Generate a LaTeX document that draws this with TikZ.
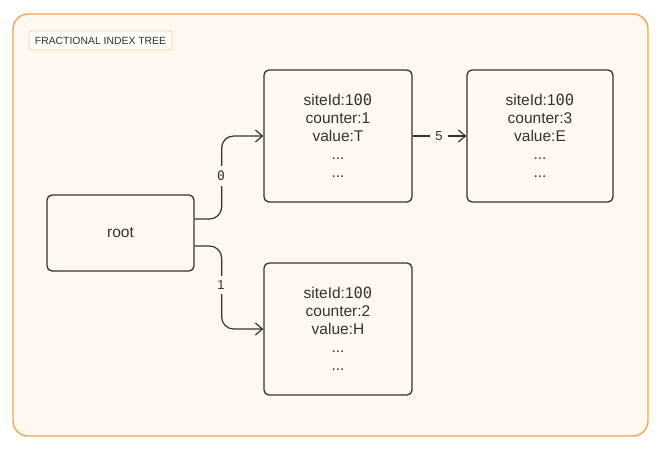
\documentclass[tikz,border=0pt]{standalone}
\usepackage{fontspec}
\setmainfont{Liberation Sans}
\newfontfamily\zerofont{DejaVu Sans Mono}
\usetikzlibrary{arrows.meta}
\definecolor{frameor}{HTML}{F2A553}
\definecolor{framebg}{HTML}{FFF8F1}
\definecolor{titlebd}{HTML}{F6D2A8}
\definecolor{titlebg}{HTML}{FFFCF8}
\definecolor{ink}{HTML}{333333}
\newcommand{\zz}{{\zerofont 0}}
\begin{document}
\begin{tikzpicture}[x=1pt,y=-1pt,
  box/.style={draw=ink,line width=1.3pt,rounded corners=5pt,fill=framebg,align=center,
    font=\fontsize{15.5}{18}\selectfont,text=ink,inner sep=0pt},
  conn/.style={draw=ink,line width=1.2pt,rounded corners=12pt,-{Straight Barb[length=7pt,width=12pt,line width=1.2pt]}},
  elabel/.style={fill=framebg,inner xsep=5pt,inner ysep=5pt,font=\fontsize{13}{13}\selectfont,text=ink}]
\useasboundingbox (0,0) rectangle (669,464);
\fill[white] (0,0) rectangle (669,464);
\draw[frameor,line width=1.4pt,fill=framebg,rounded corners=15pt] (13,14) rectangle (648,436);
\node[draw=titlebd,fill=titlebg,line width=0.8pt,rounded corners=2.5pt,minimum width=143pt,minimum height=19pt,
  inner sep=0pt,font=\fontsize{10.4}{12}\selectfont,text=ink] (title) at (100.5,40.5) {FRACTIONAL INDEX TREE};
\node[box,minimum width=147pt,minimum height=76pt] (root) at (120.5,233) {root};
\node[box,minimum width=148pt,minimum height=132pt] (n1) at (338,136)
  {siteId:1\zz\zz\\counter:1\\value:T\\...\\...};
\node[box,minimum width=146pt,minimum height=132pt] (n2) at (540,136)
  {siteId:1\zz\zz\\counter:3\\value:E\\...\\...};
\node[box,minimum width=148pt,minimum height=132pt] (n3) at (338,329)
  {siteId:1\zz\zz\\counter:2\\value:H\\...\\...};
\draw[conn] ([yshift=14pt]root.east) -- ++(27,0) |- (n1.west);
\draw[conn] ([yshift=-13pt]root.east) -- ++(27,0) |- (n3.west);
\draw[conn,rounded corners=0pt] (n1.east) -- (n2.west);
\node[elabel] (l0) at (221,176) {\zz};
\node[elabel] (l1) at (221,285) {1};
\node[elabel] (l5) at (439,136) {5};
\end{tikzpicture}
\end{document}
